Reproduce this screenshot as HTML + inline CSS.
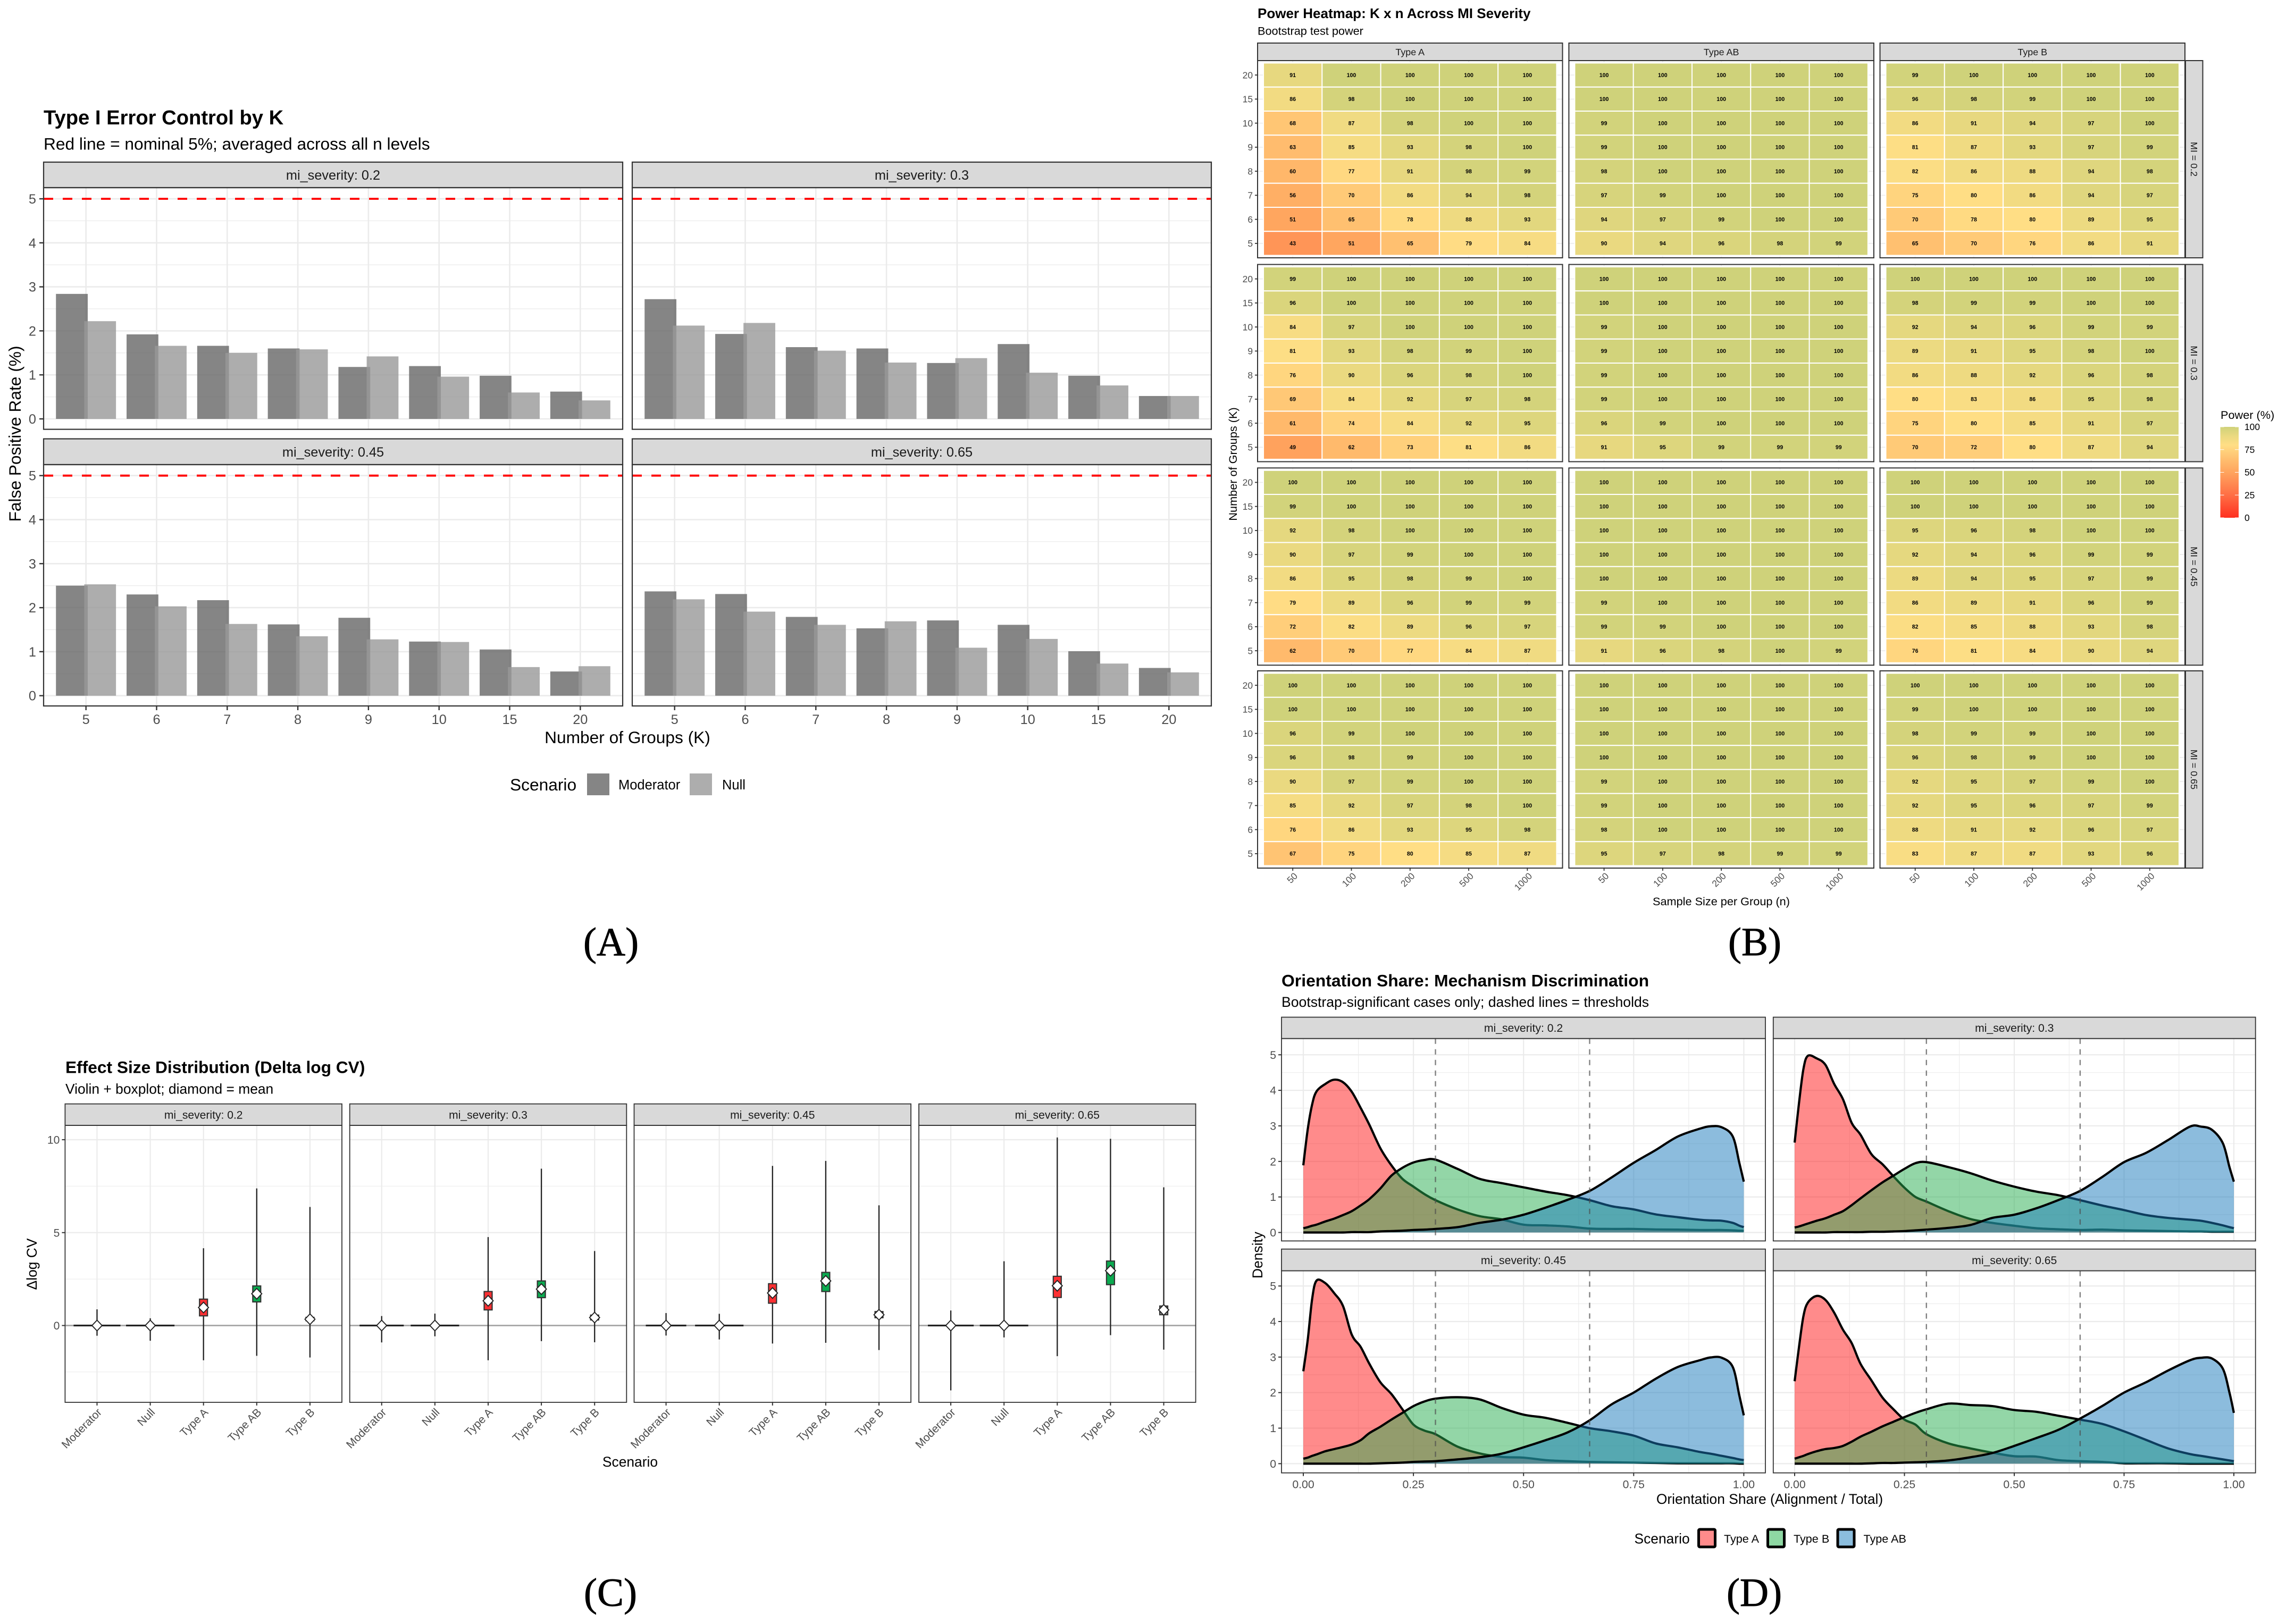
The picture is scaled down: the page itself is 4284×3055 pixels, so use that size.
<!DOCTYPE html>
<html lang="en">
<head>
<meta charset="utf-8">
<title>Simulation results figure, panels A to D</title>
<style>
html,body{margin:0;padding:0;background:#fff;}
svg{display:block;font-family:"Liberation Sans",Arial,sans-serif;}
.serif{font-family:"Liberation Serif","Times New Roman",serif;stroke:#000;stroke-width:0.9;}
</style>
</head>
<body>
<svg id="figure" xmlns="http://www.w3.org/2000/svg" width="4284" height="3055" viewBox="0 0 4284 3055">
<rect x="0" y="0" width="4284" height="3055" fill="#fff"/>
<defs><linearGradient id="powerGradient" x1="0" y1="1" x2="0" y2="0"></linearGradient></defs>

<text x="82" y="234" font-size="38.2" font-weight="700">Type I Error Control by K</text>
<text x="82" y="281.5" font-size="31.7">Red line = nominal 5%; averaged across all n levels</text>
<text x="1180" y="1398" font-size="31.7" text-anchor="middle">Number of Groups (K)</text>
<text x="0" y="0" transform="translate(39 816) rotate(-90)" font-size="31.7" text-anchor="middle">False Positive Rate (%)</text>
<text x="959" y="1487" font-size="31.7">Scenario</text>
<rect x="1104" y="1455" width="42" height="41" fill="#858585"/>
<text x="1163" y="1485" font-size="25.5">Moderator</text>
<rect x="1297" y="1455" width="42" height="41" fill="#adadad"/>
<text x="1358" y="1485" font-size="25.5">Null</text>
<text x="1149" y="1797" class="serif" font-size="75" text-anchor="middle">(A)</text>

<text x="2365" y="34" font-size="26" font-weight="700">Power Heatmap: K x n Across MI Severity</text>
<text x="2365" y="65.5" font-size="21.7">Bootstrap test power</text>
<text x="3237" y="1703" font-size="21.7" text-anchor="middle">Sample Size per Group (n)</text>
<text x="0" y="0" transform="translate(2326 873) rotate(-90)" font-size="21.7" text-anchor="middle">Number of Groups (K)</text>
<text x="4176" y="788" font-size="21.7">Power (%)</text>
<text x="3300" y="1797" class="serif" font-size="75" text-anchor="middle">(B)</text>

<text x="123" y="2018.5" font-size="31.7" font-weight="700">Effect Size Distribution (Delta log CV)</text>
<text x="123" y="2057.5" font-size="26.4">Violin + boxplot; diamond = mean</text>
<text x="1185" y="2759" font-size="26.4" text-anchor="middle">Scenario</text>
<text x="0" y="0" transform="translate(69 2378) rotate(-90)" font-size="26.4" text-anchor="middle">Δlog CV</text>
<text x="1148" y="3021" class="serif" font-size="75" text-anchor="middle">(C)</text>

<text x="2410" y="1855.5" font-size="31.9" font-weight="700">Orientation Share: Mechanism Discrimination</text>
<text x="2410" y="1894" font-size="26.6">Bootstrap-significant cases only; dashed lines = thresholds</text>
<text x="3328" y="2829" font-size="26.4" text-anchor="middle">Orientation Share (Alignment / Total)</text>
<text x="0" y="0" transform="translate(2374 2361) rotate(-90)" font-size="26.4" text-anchor="middle">Density</text>
<text x="3073.5" y="2903.5" font-size="26.4">Scenario</text>
<rect x="3194.5" y="2877" width="31" height="33" rx="2" fill="#ff8b8b" stroke="#000" stroke-width="5"/>
<text x="3242" y="2902" font-size="21.6">Type A</text>
<rect x="3324.5" y="2877" width="31" height="33" rx="2" fill="#8ed8a3" stroke="#000" stroke-width="5"/>
<text x="3373" y="2902" font-size="21.6">Type B</text>
<rect x="3456" y="2877" width="31" height="33" rx="2" fill="#8bbddd" stroke="#000" stroke-width="5"/>
<text x="3504.5" y="2902" font-size="21.6">Type AB</text>
<text x="3299" y="3021" class="serif" font-size="75" text-anchor="middle">(D)</text>
</svg>

<script>
/* ---------- Panel A data: false positive rate (%) ---------- */
const barCategories = ['5','6','7','8','9','10','15','20'];
const barTicks = [0,1,2,3,4,5];
const barStrips = ['mi_severity: 0.2','mi_severity: 0.3','mi_severity: 0.45','mi_severity: 0.65'];
const barNominal = 5;
const moderator02 = [2.84,1.92,1.66,1.60,1.18,1.20,0.98,0.62];
const null02      = [2.22,1.66,1.50,1.58,1.42,0.96,0.60,0.42];
const moderator03 = [2.72,1.93,1.63,1.60,1.27,1.70,0.98,0.52];
const null03      = [2.12,2.18,1.55,1.28,1.38,1.05,0.76,0.52];
const moderator045= [2.50,2.30,2.17,1.62,1.77,1.23,1.05,0.55];
const null045     = [2.53,2.03,1.63,1.35,1.28,1.22,0.65,0.67];
const moderator065= [2.37,2.31,1.79,1.53,1.71,1.61,1.01,0.63];
const null065     = [2.19,1.91,1.61,1.69,1.09,1.29,0.73,0.53];

/* ---------- Panel B data: power (%) K rows by n columns ---------- */
const heatRowLabels = ['20','15','10','9','8','7','6','5'];
const heatColLabels = ['50','100','200','500','1000'];
const heatColStrips = ['Type A','Type AB','Type B'];
const heatRowStrips = ['MI = 0.2','MI = 0.3','MI = 0.45','MI = 0.65'];
const legendPowerTicks = [0,25,50,75,100];
const heatA02 = [[91,100,100,100,100],[86,98,100,100,100],[68,87,98,100,100],[63,85,93,98,100],[60,77,91,98,99],[56,70,86,94,98],[51,65,78,88,93],[43,51,65,79,84]];
const heatAB02 = [[100,100,100,100,100],[100,100,100,100,100],[99,100,100,100,100],[99,100,100,100,100],[98,100,100,100,100],[97,99,100,100,100],[94,97,99,100,100],[90,94,96,98,99]];
const heatB02 = [[99,100,100,100,100],[96,98,99,100,100],[86,91,94,97,100],[81,87,93,97,99],[82,86,88,94,98],[75,80,86,94,97],[70,78,80,89,95],[65,70,76,86,91]];
const heatA03 = [[99,100,100,100,100],[96,100,100,100,100],[84,97,100,100,100],[81,93,98,99,100],[76,90,96,98,100],[69,84,92,97,98],[61,74,84,92,95],[49,62,73,81,86]];
const heatAB03 = [[100,100,100,100,100],[100,100,100,100,100],[99,100,100,100,100],[99,100,100,100,100],[99,100,100,100,100],[99,100,100,100,100],[96,99,100,100,100],[91,95,99,99,99]];
const heatB03 = [[100,100,100,100,100],[98,99,99,100,100],[92,94,96,99,99],[89,91,95,98,100],[86,88,92,96,98],[80,83,86,95,98],[75,80,85,91,97],[70,72,80,87,94]];
const heatA045 = [[100,100,100,100,100],[99,100,100,100,100],[92,98,100,100,100],[90,97,99,100,100],[86,95,98,99,100],[79,89,96,99,99],[72,82,89,96,97],[62,70,77,84,87]];
const heatAB045 = [[100,100,100,100,100],[100,100,100,100,100],[100,100,100,100,100],[100,100,100,100,100],[100,100,100,100,100],[99,100,100,100,100],[99,99,100,100,100],[91,96,98,100,99]];
const heatB045 = [[100,100,100,100,100],[100,100,100,100,100],[95,96,98,100,100],[92,94,96,99,99],[89,94,95,97,99],[86,89,91,96,99],[82,85,88,93,98],[76,81,84,90,94]];
const heatA065 = [[100,100,100,100,100],[100,100,100,100,100],[96,99,100,100,100],[96,98,99,100,100],[90,97,99,100,100],[85,92,97,98,100],[76,86,93,95,98],[67,75,80,85,87]];
const heatAB065 = [[100,100,100,100,100],[100,100,100,100,100],[100,100,100,100,100],[100,100,100,100,100],[99,100,100,100,100],[99,100,100,100,100],[98,100,100,100,100],[95,97,98,99,99]];
const heatB065 = [[100,100,100,100,100],[99,100,100,100,100],[98,99,99,100,100],[96,98,99,100,100],[92,95,97,99,100],[92,95,96,97,99],[88,91,92,96,97],[83,87,87,93,96]];

/* ---------- Panel C data: delta log CV ---------- */
const effectScenarios = ['Moderator','Null','Type A','Type AB','Type B'];
const effectStrips = ['mi_severity: 0.2','mi_severity: 0.3','mi_severity: 0.45','mi_severity: 0.65'];
const effectTicks = [-2.5,0,2.5,5,7.5,10];
const effectTickLabels = ['','0','','5','','10'];
const effectMax02 = [0.87,0.39,4.16,7.38,6.38];
const effectMin02 = [-0.55,-0.82,-1.87,-1.63,-1.72];
const effectQ302 = [0,0,1.42,2.13,0.44];
const effectQ102 = [0,0,0.52,1.27,0.26];
const effectMean02 = [0,0,0.97,1.71,0.34];
const effectSpread02 = [0.44,0.455,0.01,0.01,0.01];
const effectMax03 = [0.51,0.64,4.76,8.44,4.01];
const effectMin03 = [-0.91,-0.58,-1.87,-0.84,-0.90];
const effectQ303 = [0,0,1.83,2.40,0.56];
const effectQ103 = [0,0,0.84,1.50,0.30];
const effectMean03 = [0,0,1.33,1.96,0.43];
const effectSpread03 = [0.415,0.455,0.01,0.01,0.01];
const effectMax045 = [0.67,0.63,8.59,8.86,6.47];
const effectMin045 = [-0.54,-0.75,-0.97,-0.93,-1.32];
const effectQ3045 = [0,0,2.25,2.86,0.75];
const effectQ1045 = [0,0,1.20,1.83,0.42];
const effectMean045 = [0,0,1.75,2.40,0.58];
const effectSpread045 = [0.38,0.455,0.01,0.01,0.01];
const effectMax065 = [0.81,3.46,10.12,10.05,7.44];
const effectMin065 = [-3.49,-0.64,-1.65,-0.52,-1.30];
const effectQ3065 = [0,0,2.65,3.47,1.05];
const effectQ1065 = [0,0,1.51,2.20,0.58];
const effectMean065 = [0,0,2.14,2.95,0.84];
const effectSpread065 = [0.43,0.455,0.01,0.01,0.01];

/* ---------- Panel D data: density of orientation share ---------- */
const shareGrid = [0,.01,.02,.03,.05,.07,.09,.11,.13,.15,.175,.2,.225,.25,.275,.3,.35,.4,.45,.5,.55,.6,.65,.7,.75,.8,.85,.9,.925,.95,.975,.99,1];
const shareTicks = [0,0.25,0.5,0.75,1];
const shareTickLabels = ['0.00','0.25','0.50','0.75','1.00'];
const shareThresholds = [0.3,0.65];
const densityTicks = [0,1,2,3,4,5];
const densityStrips = ['mi_severity: 0.2','mi_severity: 0.3','mi_severity: 0.45','mi_severity: 0.65'];
const densityA02 = [1.89,2.9,3.6,3.97,4.18,4.3,4.23,3.96,3.51,3.03,2.37,1.89,1.51,1.29,1.08,.91,.65,.46,.37,.22,.2,.17,.11,.1,.1,.085,.08,.07,.07,.07,.06,.05,.05];
const densityB02 = [.12,.15,.19,.22,.31,.39,.49,.6,.76,.94,1.24,1.6,1.82,1.97,2.04,2.05,1.79,1.51,1.39,1.27,1.15,1.05,.91,.74,.65,.51,.43,.36,.34,.33,.27,.19,.15];
const densityAB02 = [0,0,0,0,0,0,0,.01,.01,.01,.03,.04,.05,.07,.08,.1,.15,.27,.36,.5,.7,.92,1.17,1.55,1.96,2.32,2.7,2.92,2.99,2.96,2.7,1.95,1.43];
const densityA03 = [2.53,3.65,4.6,4.97,4.9,4.72,4.18,3.75,3.08,2.75,2.2,1.92,1.58,1.26,1.0,.87,.6,.38,.27,.19,.12,.09,.07,.08,.06,.05,.04,.03,.03,.02,.02,.02,.02];
const densityB03 = [.14,.17,.21,.25,.33,.4,.5,.6,.77,.96,1.19,1.41,1.6,1.79,1.95,1.98,1.84,1.67,1.46,1.29,1.15,1.05,.91,.76,.63,.49,.41,.36,.33,.27,.2,.15,.12];
const densityAB03 = [0,0,0,0,0,0,.01,.01,.01,.01,.02,.02,.03,.04,.06,.08,.13,.21,.41,.5,.68,.91,1.17,1.56,1.98,2.24,2.6,2.98,2.98,2.89,2.51,1.84,1.43];
const densityA045 = [2.6,3.48,4.63,5.15,5.08,4.8,4.44,3.63,3.29,2.81,2.29,1.96,1.53,1.1,.93,.83,.48,.29,.19,.17,.1,.07,.05,.04,.03,.02,.01,.01,.01,.01,.01,0,0];
const densityB045 = [.14,.17,.22,.26,.35,.41,.47,.54,.66,.86,1.04,1.24,1.43,1.62,1.75,1.83,1.87,1.81,1.57,1.38,1.29,1.15,1.0,.91,.79,.57,.46,.33,.28,.22,.16,.12,.1];
const densityAB045 = [0,0,0,0,0,0,0,0,0,0,.01,.02,.03,.05,.06,.07,.12,.18,.28,.46,.66,.88,1.22,1.67,2.0,2.39,2.72,2.91,2.99,2.98,2.72,1.91,1.36];
const densityA065 = [2.32,3.29,4.15,4.53,4.72,4.61,4.25,3.77,3.39,2.81,2.34,1.86,1.53,1.24,1.1,.83,.57,.43,.31,.21,.2,.1,.07,.05,.01,.01,.01,0,0,0,0,0,0];
const densityB065 = [.14,.18,.22,.27,.35,.41,.44,.5,.62,.76,.9,1.05,1.18,1.31,1.43,1.53,1.69,1.65,1.62,1.51,1.46,1.35,1.24,1.12,.91,.67,.43,.27,.22,.17,.12,.09,.07];
const densityAB065 = [0,0,0,0,0,0,0,0,0,0,.01,.02,.02,.03,.04,.05,.09,.18,.3,.5,.72,.95,1.27,1.62,2.0,2.29,2.62,2.91,2.98,2.96,2.67,2.0,1.43];

/* ---------- Drawing helpers ---------- */
const SVGNS = 'http://www.w3.org/2000/svg';
const figure = document.getElementById('figure');
function draw(parent, tag, name, attrs, text) {
  const el = document.createElementNS(SVGNS, tag);
  
  
  for (const key in attrs) el.setAttribute(key, attrs[key]);
  if (text !== undefined) el.textContent = text;
  parent.appendChild(el);
  return el;
}
function group(name) { return draw(figure, 'g', name, {}); }
function seg(parent, name, x1, y1, x2, y2, color, width, extra) {
  return draw(parent, 'line', name, Object.assign({x1, y1, x2, y2, stroke: color, 'stroke-width': width}, extra || {}));
}
function tickText(parent, name, x, y, size, str, anchor) {
  return draw(parent, 'text', name, {x, y, 'font-size': size, 'text-anchor': anchor, fill: '#4d4d4d'}, str);
}
function panelBox(parent, name, left, top, width, height, border) {
  return draw(parent, 'rect', name, {x: left, y: top, width, height, fill: 'none', stroke: '#333', 'stroke-width': border});
}
function strip(parent, name, left, top, width, height, label, size, border) {
  draw(parent, 'rect', name + '-background', {x: left, y: top, width, height, fill: '#d9d9d9', stroke: '#333', 'stroke-width': border});
  draw(parent, 'text', name + '-label', {x: left + width / 2, y: top + height / 2 + size * 0.36, 'font-size': size, 'text-anchor': 'middle', fill: '#1a1a1a'}, label);
}
function smoothPath(pts) {
  let d = 'M' + pts[0][0].toFixed(2) + ' ' + pts[0][1].toFixed(2);
  for (let i = 0; i < pts.length - 1; i++) {
    const p0 = pts[Math.max(0, i - 1)], p1 = pts[i], p2 = pts[i + 1], p3 = pts[Math.min(pts.length - 1, i + 2)];
    const c1x = p1[0] + (p2[0] - p0[0]) / 6, c1y = p1[1] + (p2[1] - p0[1]) / 6;
    const c2x = p2[0] - (p3[0] - p1[0]) / 6, c2y = p2[1] - (p3[1] - p1[1]) / 6;
    d += 'C' + c1x.toFixed(2) + ' ' + c1y.toFixed(2) + ' ' + c2x.toFixed(2) + ' ' + c2y.toFixed(2) + ' ' + p2[0].toFixed(2) + ' ' + p2[1].toFixed(2);
  }
  return d;
}

/* ---------- Panel A ---------- */
(function () {
  const g = group('panel-a-bar-chart');
  const moderatorSets = [moderator02, moderator03, moderator045, moderator065];
  const nullSets = [null02, null03, null045, null065];
  const lefts = [82, 1189], width = 1089;
  const stripTops = [305, 825.5], stripBottoms = [353, 874], bottoms = [807.6, 1328], zeroY = [788, 1308.7];
  const pxPerUnit = 82.8, step = width / (barCategories.length - 1 + 1.2);
  barStrips.forEach(function (label, p) {
    const col = p % 2, row = p < 2 ? 0 : 1, left = lefts[col], top = stripBottoms[row], bottom = bottoms[row];
    const xAt = function (i) { return left + (0.6 + i) * step; };
    const yAt = function (v) { return zeroY[row] - v * pxPerUnit; };
    draw(g, 'rect', 'bar-panel-background', {x: left, y: top, width, height: bottom - top, fill: '#fff'});
    barTicks.forEach(function (t) {
      seg(g, 'bar-grid-major-y', left, yAt(t), left + width, yAt(t), '#ebebeb', 2.6);
      if (t < barTicks[barTicks.length - 1]) seg(g, 'bar-grid-minor-y', left, yAt(t + 0.5), left + width, yAt(t + 0.5), '#ebebeb', 1.3);
    });
    barCategories.forEach(function (c, i) { seg(g, 'bar-grid-major-x', xAt(i), top, xAt(i), bottom, '#ebebeb', 2.6); });
    barCategories.forEach(function (c, i) {
      const mv = moderatorSets[p][i], nv = nullSets[p][i];
      draw(g, 'rect', 'bar-moderator-k' + c, {x: xAt(i) - 0.2 * step - 0.225 * step, y: yAt(mv), width: 0.45 * step, height: yAt(0) - yAt(mv), fill: '#666', 'fill-opacity': 0.8});
      draw(g, 'rect', 'bar-null-k' + c, {x: xAt(i) + 0.2 * step - 0.225 * step, y: yAt(nv), width: 0.45 * step, height: yAt(0) - yAt(nv), fill: '#999', 'fill-opacity': 0.8});
    });
    seg(g, 'nominal-rate-line', left, yAt(barNominal), left + width, yAt(barNominal), '#f00', 3.8, {'stroke-dasharray': '18 18'});
    strip(g, 'bar-strip-' + p, left, stripTops[row], width, stripBottoms[row] - stripTops[row], label, 25.3, 2.2);
    panelBox(g, 'bar-panel-border', left, top, width, bottom - top, 2.2);
    if (col === 0) barTicks.forEach(function (t) {
      seg(g, 'bar-y-tick', left - 8, yAt(t), left, yAt(t), '#333', 2.4);
      tickText(g, 'bar-y-tick-label', left - 14, yAt(t) + 9, 25.3, String(t), 'end');
    });
    if (row === 1) barCategories.forEach(function (c, i) {
      seg(g, 'bar-x-tick', xAt(i), bottom, xAt(i), bottom + 8, '#333', 2.4);
      tickText(g, 'bar-x-tick-label', xAt(i), bottom + 34, 25.3, c, 'middle');
    });
  });
})();

/* ---------- Panel B ---------- */
const powerScaleStops = [[0,'#ff3020'],[25,'#ff6f45'],[50,'#ffa45e'],[65,'#ffc070'],[80,'#ffde85'],[90,'#ead980'],[100,'#cfd27a']];
function powerColor(v) {
  const s = powerScaleStops;
  let i = 0;
  while (i < s.length - 2 && v > s[i + 1][0]) i++;
  const t = Math.max(0, Math.min(1, (v - s[i][0]) / (s[i + 1][0] - s[i][0])));
  const rgb = function (h) { return [parseInt(h.substr(1, 2), 16), parseInt(h.substr(3, 2), 16), parseInt(h.substr(5, 2), 16)]; };
  const a = rgb(s[i][1]), b = rgb(s[i + 1][1]);
  return 'rgb(' + a.map(function (c, k) { return Math.round(c + (b[k] - c) * t); }).join(',') + ')';
}
(function () {
  const g = group('panel-b-heatmap');
  const heatSets = [[heatA02, heatAB02, heatB02], [heatA03, heatAB03, heatB03], [heatA045, heatAB045, heatB045], [heatA065, heatAB065, heatB065]];
  const lefts = [2365, 2950.4, 3535.5], tops = [114, 497.5, 880.3, 1262], width = 573.5, height = 371;
  const stepX = width / (heatColLabels.length - 1 + 1.2), stepY = height / (heatRowLabels.length - 1 + 1.2);
  heatSets.forEach(function (rowSet, r) {
    const top = tops[r];
    rowSet.forEach(function (cells, c) {
      const left = lefts[c];
      const xAt = function (j) { return left + (0.6 + j) * stepX; };
      const yAt = function (i) { return top + (0.6 + i) * stepY; };
      draw(g, 'rect', 'heat-panel-background', {x: left, y: top, width, height, fill: '#fff'});
      heatRowLabels.forEach(function (k, i) { seg(g, 'heat-grid-y', left, yAt(i), left + width, yAt(i), '#ebebeb', 1.6); });
      heatColLabels.forEach(function (n, j) { seg(g, 'heat-grid-x', xAt(j), top, xAt(j), top + height, '#ebebeb', 1.6); });
      cells.forEach(function (values, i) {
        values.forEach(function (v, j) {
          draw(g, 'rect', 'heat-cell', {x: xAt(j) - stepX / 2, y: yAt(i) - stepY / 2, width: stepX, height: stepY, fill: powerColor(v), stroke: '#fff', 'stroke-width': 2});
          draw(g, 'text', 'heat-cell-value', {x: xAt(j), y: yAt(i) + 3.8, 'font-size': 10.6, 'font-weight': 700, 'text-anchor': 'middle', fill: '#000'}, String(v));
        });
      });
      panelBox(g, 'heat-panel-border', left, top, width, height, 2);
      if (r === 0) strip(g, 'heat-column-strip-' + c, left, 81, width, 33, heatColStrips[c], 17.9, 2);
      if (c === 0) heatRowLabels.forEach(function (k, i) {
        seg(g, 'heat-y-tick', left - 5, yAt(i), left, yAt(i), '#333', 1.8);
        tickText(g, 'heat-y-tick-label', left - 9, yAt(i) + 6.2, 17.4, k, 'end');
      });
      if (r === heatSets.length - 1) heatColLabels.forEach(function (n, j) {
        seg(g, 'heat-x-tick', xAt(j), top + height, xAt(j), top + height + 5, '#333', 1.8);
        const lx = xAt(j) + 10, ly = top + height + 16;
        tickText(g, 'heat-x-tick-label', lx, ly, 17.4, n, 'end').setAttribute('transform', 'rotate(-45 ' + lx + ' ' + ly + ')');
      });
    });
    draw(g, 'rect', 'heat-row-strip-' + r + '-background', {x: 4110, y: top, width: 32.5, height, fill: '#d9d9d9', stroke: '#333', 'stroke-width': 2});
    const sx = 4120, sy = top + height / 2;
    draw(g, 'text', 'heat-row-strip-' + r + '-label', {x: sx, y: sy, 'font-size': 17.9, 'text-anchor': 'middle', fill: '#1a1a1a', transform: 'rotate(90 ' + sx + ' ' + sy + ')'}, heatRowStrips[r]);
  });
  /* colour bar legend */
  const gradient = document.getElementById('powerGradient');
  powerScaleStops.forEach(function (s) {
    draw(gradient, 'stop', 'power-gradient-stop', {offset: s[0] + '%', 'stop-color': s[1]});
  });
  const barTop = 803, barBottom = 974, barLeft = 4175.5, barRight = 4210;
  const legendY = function (v) { return barBottom - v / 100 * (barBottom - barTop); };
  draw(g, 'rect', 'power-colorbar', {x: barLeft, y: barTop, width: barRight - barLeft, height: barBottom - barTop, fill: 'url(#powerGradient)'});
  legendPowerTicks.forEach(function (v) {
    seg(g, 'power-colorbar-tick-left', barLeft, legendY(v), barLeft + 7, legendY(v), '#fff', 1);
    seg(g, 'power-colorbar-tick-right', barRight - 7, legendY(v), barRight, legendY(v), '#fff', 1);
    draw(g, 'text', 'power-legend-label', {x: 4221, y: legendY(v) + 6.2, 'font-size': 17.4, fill: '#000'}, String(v));
  });
})();

/* ---------- Panel C ---------- */
(function () {
  const g = group('panel-c-violin-chart');
  const maxSets = [effectMax02, effectMax03, effectMax045, effectMax065];
  const minSets = [effectMin02, effectMin03, effectMin045, effectMin065];
  const q3Sets = [effectQ302, effectQ303, effectQ3045, effectQ3065];
  const q1Sets = [effectQ102, effectQ103, effectQ1045, effectQ1065];
  const meanSets = [effectMean02, effectMean03, effectMean045, effectMean065];
  const spreadSets = [effectSpread02, effectSpread03, effectSpread045, effectSpread065];
  const boxColors = ['#9a9a9a', '#bdbdbd', '#ff3033', '#0bab50', '#999'];
  const lefts = [122.4, 657.7, 1192.5, 1728], width = 520.6;
  const stripTop = 2076.6, top = 2117, bottom = 2638, zero = 2493.5, pxPerUnit = 34.95;
  const step = width / (effectScenarios.length - 1 + 1.2);
  const yAt = function (v) { return zero - v * pxPerUnit; };
  effectStrips.forEach(function (label, p) {
    const left = lefts[p];
    const xAt = function (i) { return left + (0.6 + i) * step; };
    draw(g, 'rect', 'effect-panel-background', {x: left, y: top, width, height: bottom - top, fill: '#fff'});
    effectTicks.forEach(function (t, i) {
      const major = effectTickLabels[i] !== '';
      seg(g, major ? 'effect-grid-major-y' : 'effect-grid-minor-y', left, yAt(t), left + width, yAt(t), '#ebebeb', major ? 2.2 : 1.1);
    });
    effectScenarios.forEach(function (s, i) { seg(g, 'effect-grid-major-x', xAt(i), top, xAt(i), bottom, '#ebebeb', 2.2); });
    seg(g, 'effect-zero-line', left, yAt(0), left + width, yAt(0), '#a6a6a6', 2.8);
    effectScenarios.forEach(function (s, i) {
      const cx = xAt(i);
      seg(g, 'violin-span-' + i, cx, yAt(maxSets[p][i]), cx, yAt(minSets[p][i]), '#222', 2.3);
      const hw = spreadSets[p][i] * step;
      const my = yAt(meanSets[p][i]);
      if (hw > 5) seg(g, 'violin-width-' + i, cx - hw, my, cx + hw, my, '#222', 3.2);
      const q3 = q3Sets[p][i], q1 = q1Sets[p][i];
      if (q3 > q1) draw(g, 'rect', 'box-' + i, {x: cx - 7.5, y: yAt(q3), width: 15, height: yAt(q1) - yAt(q3), fill: boxColors[i], stroke: '#333', 'stroke-width': 2.2});
      draw(g, 'polygon', 'mean-diamond-' + i, {points: (cx - 9.5) + ',' + my + ' ' + cx + ',' + (my - 10) + ' ' + (cx + 9.5) + ',' + my + ' ' + cx + ',' + (my + 10), fill: '#fff', stroke: '#222', 'stroke-width': 1.9});
    });
    strip(g, 'effect-strip-' + p, left, stripTop, width, top - stripTop, label, 21.1, 1.8);
    panelBox(g, 'effect-panel-border', left, top, width, bottom - top, 1.8);
    effectScenarios.forEach(function (s, i) {
      const cx = xAt(i);
      seg(g, 'effect-x-tick', cx, bottom, cx, bottom + 6, '#333', 2);
      const lx = cx + 10, ly = bottom + 20;
      tickText(g, 'effect-x-tick-label', lx, ly, 21.1, s, 'end').setAttribute('transform', 'rotate(-45 ' + lx + ' ' + ly + ')');
    });
    if (p === 0) effectTicks.forEach(function (t, i) {
      if (effectTickLabels[i] === '') return;
      seg(g, 'effect-y-tick', left - 6, yAt(t), left, yAt(t), '#333', 2);
      tickText(g, 'effect-y-tick-label', left - 10, yAt(t) + 7.5, 21.1, effectTickLabels[i], 'end');
    });
  });
})();

/* ---------- Panel D ---------- */
(function () {
  const g = group('panel-d-density-chart');
  const curves = [[densityA02, densityB02, densityAB02], [densityA03, densityB03, densityAB03], [densityA045, densityB045, densityAB045], [densityA065, densityB065, densityAB065]];
  const fills = ['#ff1818', '#27ae4f', '#1a7abb'];
  const seriesNames = ['type-a', 'type-b', 'type-ab'];
  const lefts = [2410, 3334.8], widths = [910, 906.9], xZero = [2451, 3375], xOne = [3279.4, 4201];
  const stripTops = [1913.5, 2349.7], tops = [1953.7, 2390.6], bottoms = [2334.4, 2770.7], yZero = [2318.5, 2753.4];
  const pxPerUnit = 66.85;
  densityStrips.forEach(function (label, p) {
    const col = p % 2, row = p < 2 ? 0 : 1, left = lefts[col], width = widths[col], top = tops[row], bottom = bottoms[row];
    const xAt = function (v) { return xZero[col] + v * (xOne[col] - xZero[col]); };
    const yAt = function (v) { return yZero[row] - v * pxPerUnit; };
    draw(g, 'rect', 'density-panel-background', {x: left, y: top, width, height: bottom - top, fill: '#fff'});
    densityTicks.forEach(function (t) {
      seg(g, 'density-grid-major-y', left, yAt(t), left + width, yAt(t), '#ebebeb', 2.2);
      seg(g, 'density-grid-minor-y', left, yAt(t + 0.5), left + width, yAt(t + 0.5), '#ebebeb', 1.1);
    });
    shareTicks.forEach(function (t, i) {
      seg(g, 'density-grid-major-x', xAt(t), top, xAt(t), bottom, '#ebebeb', 2.2);
      if (i < shareTicks.length - 1) {
        const mid = (t + shareTicks[i + 1]) / 2;
        seg(g, 'density-grid-minor-x', xAt(mid), top, xAt(mid), bottom, '#ebebeb', 1.1);
      }
    });
    curves[p].forEach(function (values, s) {
      const pts = values.map(function (v, i) { return [xAt(shareGrid[i]), yAt(v)]; });
      const line = smoothPath(pts);
      const area = line + 'L' + xAt(1) + ' ' + yAt(0) + 'L' + xAt(0) + ' ' + yAt(0) + 'Z';
      draw(g, 'path', 'density-area-' + seriesNames[s], {d: area, fill: fills[s], 'fill-opacity': 0.5, stroke: 'none'});
      draw(g, 'path', 'density-line-' + seriesNames[s], {d: line, fill: 'none', stroke: '#000', 'stroke-width': 4.2, 'stroke-linejoin': 'round'});
    });
    shareThresholds.forEach(function (t) {
      seg(g, 'threshold-line', xAt(t), top, xAt(t), bottom, '#4d4d4d', 2.4, {'stroke-dasharray': '10 10', 'stroke-opacity': 0.7});
    });
    strip(g, 'density-strip-' + p, left, stripTops[row], width, top - stripTops[row], label, 21.2, 1.8);
    panelBox(g, 'density-panel-border', left, top, width, bottom - top, 1.8);
    if (col === 0) densityTicks.forEach(function (t) {
      seg(g, 'density-y-tick', left - 6, yAt(t), left, yAt(t), '#333', 2);
      tickText(g, 'density-y-tick-label', left - 10, yAt(t) + 7.5, 21.2, String(t), 'end');
    });
    if (row === 1) shareTicks.forEach(function (t, i) {
      seg(g, 'density-x-tick', xAt(t), bottom, xAt(t), bottom + 6, '#333', 2);
      tickText(g, 'density-x-tick-label', xAt(t), bottom + 29, 21.2, shareTickLabels[i], 'middle');
    });
  });
})();
</script>
</body>
</html>
